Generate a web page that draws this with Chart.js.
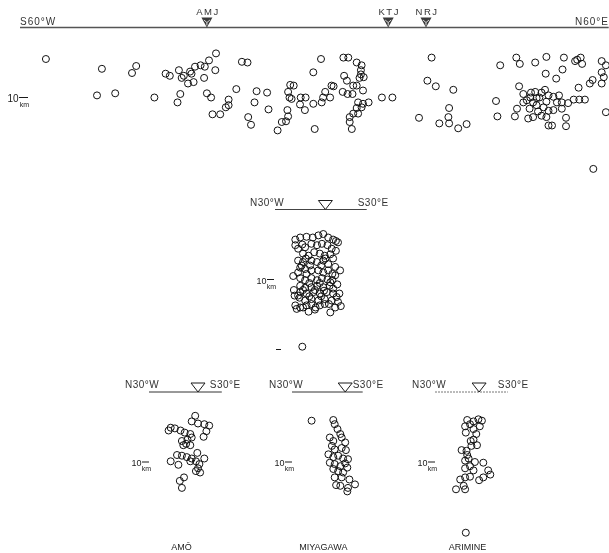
<!DOCTYPE html>
<html><head><meta charset="utf-8">
<script src="https://cdn.jsdelivr.net/npm/chart.js@4.4.1/dist/chart.umd.min.js"></script>
<style>
html,body{margin:0;padding:0;background:#fff;width:609px;height:553px;overflow:hidden;position:relative;}
canvas{position:absolute;}
</style></head><body>
<canvas id="cTop"></canvas>
<canvas id="cMid"></canvas>
<canvas id="cAmo"></canvas>
<canvas id="cMiy"></canvas>
<canvas id="cAri"></canvas>
<script>
// ===== DATA: distance along profile (km), depth (km) =====
// Top profile S60°W - N60°E
const topDist = [3.7,11.7,11.0,13.6,16.6,16.0,19.2,20.8,21.4,22.7,23.1,23.4,24.3,24.5,25.0,25.8,26.4,27.0,28.0,27.9,
  26.3,24.0,24.8,22.9,22.5,26.7,27.3,27.5,28.6,29.8,29.8,29.4,30.9,31.7,32.5,33.8,35.3,33.5,35.5,32.6,
  33.0,38.6,39.1,38.3,38.5,38.8,38.2,38.3,37.4,38.0,36.8,40.1,40.8,40.0,40.7,41.9,42.1,41.9,43.0,46.2,
  46.9,48.1,48.8,48.7,48.7,46.3,46.7,47.6,48.5,49.1,49.0,48.1,44.5,44.8,43.6,44.3,43.3,43.1,46.1,46.8,
  47.5,48.3,49.0,49.8,48.1,48.8,48.3,47.6,47.1,47.1,47.4,51.7,53.2,58.8,58.2,59.4,61.9,57.0,59.9,61.2,
  61.3,61.3,62.6,63.8,81.9,68.0,68.2,68.6,70.9,71.4,73.6,75.2,77.7,77.5,79.3,80.1,80.3,83.1,83.7,75.1,
  76.6,83.1,83.4,81.8,81.4,83.1,79.8,83.7,79.6,71.3,71.9,72.4,72.9,73.6,73.3,74.2,74.5,75.0,75.5,76.2,
  77.0,77.4,78.3,79.1,79.9,80.7,73.8,74.8,75.5,76.2,77.4,72.8,71.9,71.0,72.6,73.3,74.5,75.2,75.5,76.0,
  78.0,78.0,70.7,73.8,75.2,76.7,74.0,73.0];
const topDepth = [4.5,5.9,9.7,9.4,5.5,6.5,10.0,6.6,6.9,6.1,7.2,6.9,6.3,6.6,5.6,5.4,5.6,4.7,3.7,6.1,
  7.2,8.0,7.8,9.5,10.7,9.4,10.0,12.4,12.4,10.3,11.1,11.4,8.8,4.9,5.0,9.1,9.3,10.7,11.7,12.8,
  13.9,8.2,8.3,9.2,10.0,10.2,11.8,12.7,13.5,13.4,14.7,10.0,10.0,11.0,11.8,10.9,14.5,6.4,4.5,4.3,
  4.3,5.0,5.4,6.1,6.7,6.9,7.6,8.3,7.2,7.1,9.0,8.3,8.3,8.4,9.2,10.0,10.0,10.7,9.2,9.5,
  9.5,10.7,10.9,10.7,11.5,11.4,12.3,12.3,12.8,13.5,14.5,10.0,10.0,4.3,7.6,8.4,8.9,12.9,13.7,12.8,
  11.5,13.7,14.4,13.8,20.2,10.5,12.7,5.4,4.3,5.2,5.0,4.2,4.3,6.0,4.8,4.3,5.2,4.8,5.4,6.6,
  7.3,6.4,7.1,7.5,8.0,8.0,8.6,12.1,4.6,8.4,9.5,10.4,10.0,9.2,10.7,10.0,9.3,8.9,9.7,9.9,
  9.7,10.7,10.8,10.3,10.3,10.3,11.1,11.4,11.9,11.8,11.6,11.6,10.7,11.6,13.0,12.8,12.6,12.8,14.0,14.0,
  12.9,14.1,12.7,10.1,10.6,10.7,12.0,9.3];
const topLineKm = 84.1;
const topStations = ['AMJ','KTJ','NRJ'];
const topStationKm = [26.7, 52.6, 58.0];
const topEnds = ['S60°W','N60°E'];

// Middle profile N30°W - S30°E (all events)
const midDist = [2.9,3.6,4.5,5.4,6.2,6.9,7.6,8.3,9.0, 2.9,3.3,4.3,5.2,6.0,6.7,7.5,8.1,8.7,
  4.0,4.8,5.6,6.4,7.1,7.9,8.3, 5.2,6.0,6.9,7.6,8.6,3.3,3.8,4.0,4.4,
  3.6,4.3,3.3,4.5,5.2,6.2,6.9,7.6,8.2,8.6, 3.6,4.3,5.2,6.0,6.7,7.5,8.2,
  3.6,4.3,5.2,6.0,6.9,7.8,8.3, 3.6,4.5,5.5,6.4,7.4,8.3,8.8, 3.5,4.3,5.2,6.2,7.1,8.1,9.0,
  2.9,3.6,4.5,5.2,6.4,7.1,8.6, 3.1,4.0,7.9,5.7,
  2.6,2.7,2.8,9.2,9.4,9.3,3.9,5.0,6.6,7.2,4.9,6.4,7.9,4.0,5.7,7.0,4.9,6.6,7.7,5.8,4.8,8.7,3.3,8.9,
  3.9];
const midDepth = [4.3,4.0,3.9,4.0,3.7,3.5,4.0,4.3,4.7, 5.1,5.6,5.4,4.9,5.1,4.9,5.1,5.6,5.9,
  6.3,6.6,6.1,6.3,6.6,6.4,7.0, 7.3,7.5,7.3,7.8,8.2,7.3,8.0,7.5,7.0,
  8.3,8.5,9.0,9.2,8.7,8.7,9.0,8.7,9.2,9.4, 9.8,10.1,9.8,10.1,9.8,10.0,10.1,
  10.9,11.2,11.1,10.9,11.1,10.9,11.3, 11.8,12.0,11.8,12.0,11.8,12.0,12.5, 12.6,13.0,12.8,13.0,12.8,13.0,13.2,
  13.7,14.0,13.7,13.5,13.7,13.5,14.0, 14.2,14.0,14.7,14.3,
  9.5,11.5,12.3,12.0,13.8,8.7,5.0,8.0,8.0,7.0,10.5,10.5,10.4,11.5,11.5,11.6,12.4,12.4,13.5,14.0,14.6,4.5,12.3,10.7,
  19.6];
const midLineKm = 13.1;
const midStationKm = 7.2;

// AMŌ
const amoDist = [6.6,6.1,7.0,7.9,8.6,8.2,7.8, 2.8,3.1,3.7,4.5,5.1,5.9,6.1,5.5,4.7,4.9,5.9,5.3,
  4.0,4.7,5.4,6.1,6.9,7.9,6.7,5.9, 3.1,4.2, 7.2,7.0,7.3,6.7, 5.0,4.4,4.7];
const amoDepth = [3.4,4.2,4.5,4.6,4.8,5.6,6.4, 5.5,5.1,5.2,5.5,5.8,6.0,6.5,6.8,7.0,7.6,7.6,7.4,
  9.0,9.1,9.3,9.5,8.7,9.5,9.9,9.9, 9.9,10.4, 10.3,10.9,11.5,11.3, 12.2,12.7,13.7];
const amoLineKm = 10.4;
const amoStationKm = 7.0;

// MIYAGAWA
const miyDist = [2.8, 5.9,6.1,6.5,6.9,7.1, 5.4,5.9,5.7,6.1,7.1,7.6,7.7, 5.2,5.9,6.6,7.3,8.0,
  5.4,6.1,6.9,7.6, 5.9,6.6,7.9,7.3, 6.1,7.1,8.2,9.0, 6.3,6.9,7.9,8.0];
const miyDepth = [4.1, 4.0,4.6,5.3,6.0,6.5, 6.5,7.0,7.7,8.2,8.0,7.2,8.3, 8.9,9.3,9.1,9.5,9.6,
  10.1,10.3,10.6,10.2, 11.0,11.3,10.8,11.5, 12.2,12.2,12.5,13.2, 13.3,13.4,14.2,13.7];
const miyLineKm = 10.1;
const miyStationKm = 7.6;

// ARIMINE
const ariDist = [4.6,5.5,6.2,6.7,6.4, 4.3,5.0,4.4,5.5,5.9, 5.1,5.5,6.0,5.2, 3.8,4.5,4.6,
  4.3,4.8,5.7,6.9,5.0,4.3,5.5,7.6,7.9, 3.6,4.3,5.0,6.3,6.9, 3.0,4.3,4.1, 4.4];
const ariDepth = [4.0,4.2,3.9,4.1,4.9, 4.9,4.6,5.8,5.3,6.0, 7.0,6.8,7.6,7.7, 8.3,8.4,9.0,
  9.8,9.5,10.0,10.1,10.6,10.9,11.2,11.2,11.8, 12.5,12.2,12.1,12.6,12.2, 13.9,13.9,13.4, 20.1];
const ariLineKm = 10.4;
const ariStationKm = 6.3;

const crossEnds = ['N30°W','S30°E'];
const depthTickKm = 10;
const depthTickLabel = '10';
const depthUnit = 'km';
const siteNames = ['AMŌ','MIYAGAWA','ARIMINE'];

// ===== rendering =====
const KM_PX = 7;
const FONT = '"Liberation Sans", Arial, sans-serif';
const INK = '#1a1a1a';

function makePanel(cfg){
  const cv = document.getElementById(cfg.id);
  cv.width = cfg.box.w; cv.height = cfg.box.h;
  cv.style.left = cfg.box.l + 'px'; cv.style.top = cfg.box.t + 'px';
  const ox = cfg.origin.x - cfg.box.l, oy = cfg.origin.y - cfg.box.t;
  const deco = {
    id: 'deco',
    afterDatasetsDraw(chart){
      const ctx = chart.ctx, xs = chart.scales.x, ys = chart.scales.y;
      const y0 = ys.getPixelForValue(0);
      const xa = xs.getPixelForValue(0), xb = xs.getPixelForValue(cfg.lineKm);
      ctx.save();
      // surface line
      ctx.strokeStyle = cfg.lineColor; ctx.lineWidth = cfg.lineWidth;
      if (cfg.lineDash) ctx.setLineDash(cfg.lineDash);
      ctx.beginPath(); ctx.moveTo(xa, y0); ctx.lineTo(xb, y0); ctx.stroke();
      ctx.setLineDash([]);
      // stations
      cfg.stationKm.forEach((km, i) => {
        const sx = xs.getPixelForValue(km);
        const hw = cfg.tri.w / 2, th = cfg.tri.h;
        ctx.beginPath();
        ctx.moveTo(sx - hw, y0 - th); ctx.lineTo(sx + hw, y0 - th); ctx.lineTo(sx, y0); ctx.closePath();
        if (cfg.tri.filled) {
          ctx.fillStyle = '#3a3a3a'; ctx.fill();
          ctx.strokeStyle = '#fff'; ctx.lineWidth = 0.8;
          ctx.beginPath(); ctx.moveTo(sx - hw + 2.5, y0 - th + 2.5); ctx.lineTo(sx, y0 - th / 2); ctx.lineTo(sx + hw - 2.5, y0 - th + 2.5);
          ctx.moveTo(sx, y0 - th / 2); ctx.lineTo(sx, y0 - 2); ctx.stroke();
        } else {
          ctx.fillStyle = '#fff'; ctx.fill();
          ctx.strokeStyle = INK; ctx.lineWidth = 1; ctx.stroke();
        }
        if (cfg.stationNames) {
          ctx.fillStyle = '#333'; ctx.font = '9.5px ' + FONT; ctx.letterSpacing = '1.5px';
          ctx.textAlign = 'center'; ctx.textBaseline = 'alphabetic';
          ctx.fillText(cfg.stationNames[i], sx + 1, y0 - 13);
        }
      });
      // end labels
      ctx.fillStyle = '#333'; ctx.font = '10px ' + FONT; ctx.letterSpacing = cfg.endSpacing;
      ctx.textBaseline = 'alphabetic';
      ctx.textAlign = 'left';
      ctx.fillText(cfg.ends[0], xa + cfg.endOff[0], y0 - cfg.endLift);
      if (cfg.rightAlignEnd) { ctx.textAlign = 'right'; ctx.fillText(cfg.ends[1], cfg.box.w, y0 - cfg.endLift); }
      else ctx.fillText(cfg.ends[1], xb + cfg.endOff[1], y0 - cfg.endLift);
      ctx.letterSpacing = '0px';
      // depth tick "10 km"
      const yt = ys.getPixelForValue(depthTickKm);
      ctx.strokeStyle = INK; ctx.lineWidth = 1;
      ctx.beginPath(); ctx.moveTo(xa + cfg.tick[0], yt); ctx.lineTo(xa + cfg.tick[1], yt); ctx.stroke();
      ctx.fillStyle = INK; ctx.font = cfg.tickFont + ' ' + FONT; ctx.textAlign = 'right';
      ctx.fillText(depthTickLabel, xa + cfg.tick[0] - 0.5, yt + 4);
      ctx.font = '7px ' + FONT; ctx.textAlign = 'center';
      ctx.fillText(depthUnit, xa + (cfg.tick[0] + cfg.tick[1]) / 2 + 1, yt + 9);
      if (cfg.extraTickKm) {
        const ye = ys.getPixelForValue(cfg.extraTickKm);
        ctx.beginPath(); ctx.moveTo(xa + cfg.extraTick[0], ye); ctx.lineTo(xa + cfg.extraTick[1], ye); ctx.stroke();
      }
      if (cfg.site) {
        ctx.font = '9px ' + FONT; ctx.textAlign = 'center'; ctx.fillStyle = '#222';
        ctx.fillText(cfg.site, (xa + xb) / 2 - 4, cfg.box.h - 3);
      }
      ctx.restore();
    }
  };
  new Chart(cv, {
    type: 'scatter',
    data: { datasets: [{
      data: cfg.xs.map((v, i) => ({ x: v, y: cfg.ds[i] })),
      pointStyle: 'circle', pointRadius: 3.5, borderWidth: 1,
      borderColor: '#111', backgroundColor: 'rgba(255,255,255,0)', clip: false
    }]},
    options: {
      responsive: false, animation: false, events: [], devicePixelRatio: 1,
      layout: { autoPadding: false, padding: 0 },
      plugins: { legend: { display: false }, tooltip: { enabled: false }, title: { display: false } },
      scales: {
        x: { type: 'linear', display: false, min: -ox / KM_PX, max: (cfg.box.w - ox) / KM_PX },
        y: { type: 'linear', display: false, reverse: true, min: -oy / KM_PX, max: (cfg.box.h - oy) / KM_PX }
      }
    },
    plugins: [deco]
  });
}

makePanel({ id: 'cTop', box: { l: 0, t: 0, w: 609, h: 185 }, origin: { x: 20, y: 27.5 },
  xs: topDist, ds: topDepth, lineKm: topLineKm, lineColor: '#555', lineWidth: 1.6,
  stationKm: topStationKm, stationNames: topStations, tri: { w: 11, h: 10, filled: true },
  ends: topEnds, endOff: [0, 0], endLift: 3, endSpacing: '1px', rightAlignEnd: true,
  tick: [-1, 8], tickFont: '10px' });

makePanel({ id: 'cMid', box: { l: 230, t: 190, w: 170, h: 175 }, origin: { x: 275, y: 209.5 },
  xs: midDist, ds: midDepth, lineKm: midLineKm, lineColor: '#444', lineWidth: 1,
  stationKm: [midStationKm], tri: { w: 14, h: 9, filled: false },
  ends: crossEnds, endOff: [-25, -9], endLift: 4, endSpacing: '0.5px',
  tick: [-8, -1], tickFont: '9px', extraTickKm: 20, extraTick: [1, 6] });

makePanel({ id: 'cAmo', box: { l: 100, t: 370, w: 150, h: 183 }, origin: { x: 149, y: 392 },
  xs: amoDist, ds: amoDepth, lineKm: amoLineKm, lineColor: '#333', lineWidth: 1,
  stationKm: [amoStationKm], tri: { w: 14, h: 9, filled: false },
  ends: crossEnds, endOff: [-24, -12], endLift: 4, endSpacing: '0.5px',
  tick: [-7, 0], tickFont: '9px', site: siteNames[0] });

makePanel({ id: 'cMiy', box: { l: 250, t: 370, w: 150, h: 183 }, origin: { x: 292, y: 392 },
  xs: miyDist, ds: miyDepth, lineKm: miyLineKm, lineColor: '#333', lineWidth: 1,
  stationKm: [miyStationKm], tri: { w: 14, h: 9, filled: false },
  ends: crossEnds, endOff: [-23, -10], endLift: 4, endSpacing: '0.5px',
  tick: [-7, 0], tickFont: '9px', site: siteNames[1] });

makePanel({ id: 'cAri', box: { l: 400, t: 370, w: 150, h: 183 }, origin: { x: 435, y: 392 },
  xs: ariDist, ds: ariDepth, lineKm: ariLineKm, lineColor: '#777', lineWidth: 1, lineDash: [2, 1],
  stationKm: [ariStationKm], tri: { w: 14, h: 9, filled: false },
  ends: crossEnds, endOff: [-23, -10], endLift: 4, endSpacing: '0.5px',
  tick: [-7, 0], tickFont: '9px', site: siteNames[2] });
</script>
</body></html>
